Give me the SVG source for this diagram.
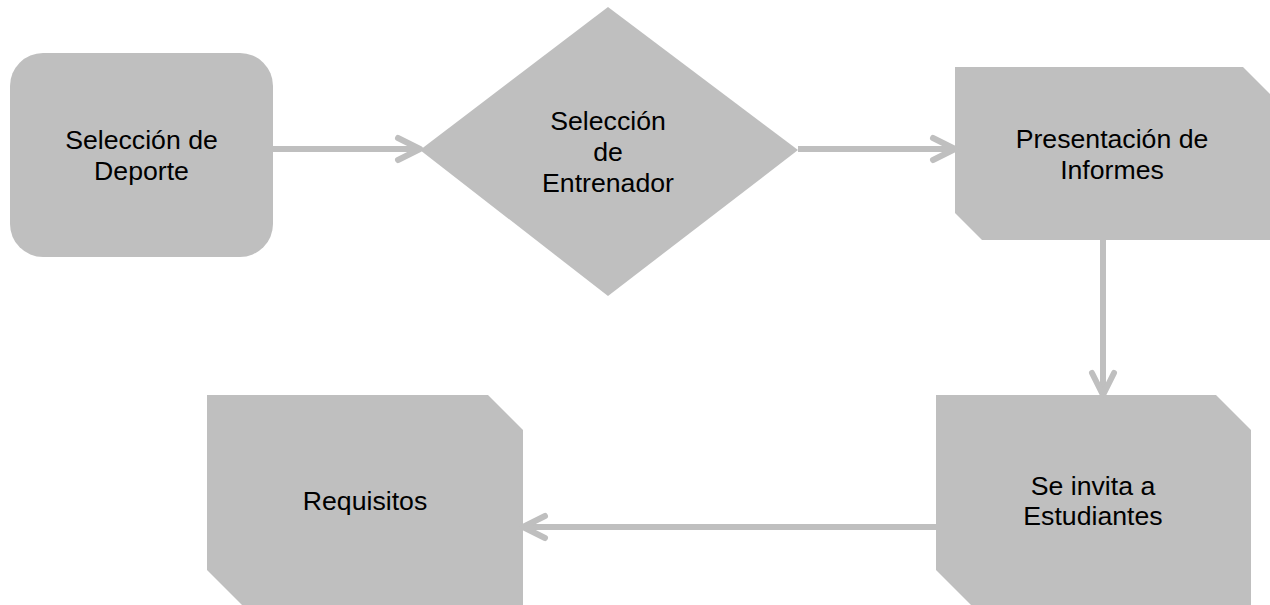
<svg xmlns="http://www.w3.org/2000/svg" width="1270" height="605" viewBox="0 0 1270 605">
  <style>
    .shape { fill: #BFBFBF; stroke: none; }
    .conn { stroke: #BFBFBF; stroke-width: 6; fill: none; }
    .lbl { font-family: "Liberation Sans", Arial, sans-serif; font-size: 26.67px; fill: #000000; text-anchor: middle; }
  </style>
  <defs>
    <marker id="arrow" markerUnits="userSpaceOnUse" markerWidth="40" markerHeight="40" viewBox="-30 -20 40 40" refX="0" refY="0" orient="auto">
      <path d="M -22 -11 L 0 0 L -22 11" fill="none" stroke="#BFBFBF" stroke-width="6" stroke-linecap="round" stroke-linejoin="round"/>
    </marker>
  </defs>

  <g id="node-seleccion-deporte">
    <rect class="shape" x="10" y="53" width="263" height="204" rx="33" ry="33"/>
    <text class="lbl" x="141.5" y="149">Selección de</text>
    <text class="lbl" x="141.5" y="180">Deporte</text>
  </g>

  <g id="node-seleccion-entrenador">
    <polygon class="shape" points="608,7 798,150 608,296 420,150"/>
    <text class="lbl" x="608" y="130">Selección</text>
    <text class="lbl" x="608" y="161">de</text>
    <text class="lbl" x="608" y="192">Entrenador</text>
  </g>

  <g id="node-presentacion-informes">
    <polygon class="shape" points="955,67 1243,67 1270,94 1270,240 982,240 955,213"/>
    <text class="lbl" x="1112" y="148">Presentación de</text>
    <text class="lbl" x="1112" y="179">Informes</text>
  </g>

  <g id="node-se-invita">
    <polygon class="shape" points="936,395 1216,395 1251,430 1251,605 971,605 936,570"/>
    <text class="lbl" x="1093" y="495">Se invita a</text>
    <text class="lbl" x="1093" y="525">Estudiantes</text>
  </g>

  <g id="node-requisitos">
    <polygon class="shape" points="207,395 488,395 523,430 523,605 242,605 207,570"/>
    <text class="lbl" x="365" y="510">Requisitos</text>
  </g>

  <g id="connectors">
    <path class="conn" d="M273 149 H420" marker-end="url(#arrow)"/>
    <path class="conn" d="M798 149 H955" marker-end="url(#arrow)"/>
    <path class="conn" d="M1103 240 V395" marker-end="url(#arrow)"/>
    <path class="conn" d="M936 527 H523" marker-end="url(#arrow)"/>
  </g>
</svg>
